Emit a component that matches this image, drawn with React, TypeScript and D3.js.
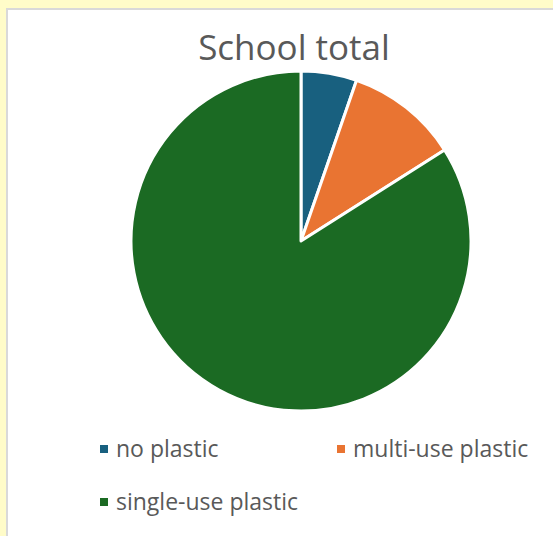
import React from "react";
import * as d3 from "d3";

const categories = ["no plastic", "multi-use plastic", "single-use plastic"];
const values = [5.3, 10.7, 84.0];
const colors = ["#18607f", "#e97432", "#1b6a23"];
const title = "School total";

export default function App() {
  const W = 553, H = 536;
  const cx = 301, cy = 241, r = 170;
  const pie = d3.pie<number>().sort(null).value((d) => d);
  const arcs = pie(values);
  const arc = d3.arc<d3.PieArcDatum<number>>().innerRadius(0).outerRadius(r);
  const legendPos = [
    { x: 100, y: 449 },
    { x: 337, y: 449 },
    { x: 100, y: 502 },
  ];
  const font = "'Open Sans', sans-serif";
  return (
    <svg width={W} height={H} style={{ position: "absolute", left: 0, top: 0 }}>
      <rect x={0} y={0} width={W} height={H} fill="#fffcc9" />
      <rect x={7} y={9} width={W} height={H} fill="#ffffff" stroke="#d9d9d9" strokeWidth={2} />
      <text x={294} y={60} textAnchor="middle" fontFamily={font} fontSize={35} fill="#595959">
        {title}
      </text>
      <g transform={`translate(${cx},${cy})`}>
        {arcs.map((a, i) => (
          <path key={i} d={arc(a) || ""} fill={colors[i]} stroke="#ffffff" strokeWidth={3} strokeLinejoin="round" />
        ))}
      </g>
      {categories.map((c, i) => (
        <g key={c} transform={`translate(${legendPos[i].x},${legendPos[i].y})`}>
          <rect x={0} y={-4} width={8} height={8} fill={colors[i]} />
          <text x={16} y={7.5} fontFamily={font} fontSize={23} fill="#595959">
            {c}
          </text>
        </g>
      ))}
    </svg>
  );
}
